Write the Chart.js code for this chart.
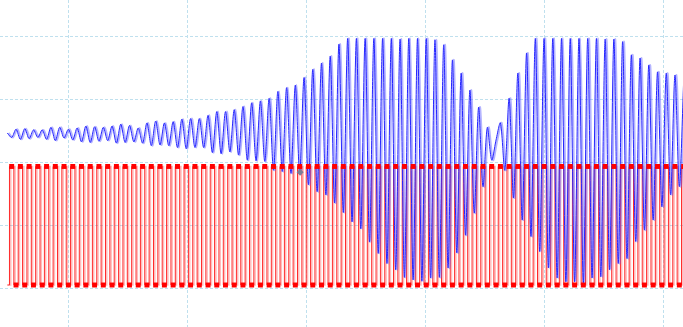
<!DOCTYPE html>
<html>
<head>
<meta charset="utf-8">
<script src="https://cdn.jsdelivr.net/npm/chart.js@4.4.1/dist/chart.umd.min.js"></script>
<style>
  html, body { margin: 0; padding: 0; background: #fff; }
  #wrap { width: 683px; height: 327px; }
</style>
</head>
<body>
<div id="wrap"><canvas id="scope" width="683" height="327"></canvas></div>
<script>
// one sample per half period of the drive signal (sample 0 is just before the first edge)

// drive signal: 0 = low, 1 = high
const driveState = [
  0,1,0,1,0,1,0,1,0,1,0,1,0,1,0,1,0,1,0,1,0,1,0,1,0,1,0,1,0,1,0,1,0,1,0,1,0,1,0,1,
  0,1,0,1,0,1,0,1,0,1,0,1,0,1,0,1,0,1,0,1,0,1,0,1,0,1,0,1,0,1,0,1,0,1,0,1,0,1,0,1,
  0,1,0,1,0,1,0,1,0,1,0,1,0,1,0,1,0,1,0,1,0,1,0,1,0,1,0,1,0,1,0,1,0,1,0,1,0,1,0,1,
  0,1,0,1,0,1,0,1,0,1,0,1,0,1,0,1,0,1,0,1,0,1,0,1,0,1,0,1,0,1,0,1,0,1,0,1
];
const driveLevels = [0.06, 1.94]; // V

// response signal, V
const response = [
  2.47,
  2.40, 2.53, 2.37, 2.54, 2.38, 2.52, 2.40, 2.52, 2.37, 2.56,
  2.35, 2.56, 2.39, 2.53, 2.36, 2.55, 2.33, 2.58, 2.32, 2.57,
  2.34, 2.56, 2.35, 2.58, 2.31, 2.61, 2.32, 2.59, 2.33, 2.55,
  2.31, 2.63, 2.27, 2.66, 2.28, 2.63, 2.27, 2.65, 2.24, 2.69,
  2.22, 2.70, 2.24, 2.70, 2.24, 2.75, 2.16, 2.81, 2.14, 2.81,
  2.17, 2.84, 2.12, 2.89, 2.04, 2.95, 2.03, 2.98, 2.02, 3.02,
  1.88, 3.13, 1.86, 3.19, 1.83, 3.23, 1.82, 3.35, 1.65, 3.48,
  1.54, 3.58, 1.49, 3.69, 1.36, 3.88, 1.21, 3.97, 1.06, 3.97,
  0.95, 3.97, 0.74, 3.97, 0.56, 3.97, 0.40, 3.97, 0.30, 3.96,
  0.18, 3.97, 0.14, 3.97, 0.12, 3.97, 0.17, 3.95, 0.18, 3.87,
  0.33, 3.63, 0.57, 3.42, 0.85, 3.15, 1.20, 2.88, 1.62, 2.56,
  2.04, 2.36, 2.63, 1.88, 3.02, 1.44, 3.42, 1.09, 3.74, 0.83,
  3.97, 0.59, 3.97, 0.33, 3.97, 0.17, 3.97, 0.11, 3.97, 0.11,
  3.97, 0.09, 3.97, 0.17, 3.97, 0.19, 3.96, 0.30, 3.96, 0.40,
  3.92, 0.48, 3.71, 0.75, 3.66, 0.93, 3.55, 1.09, 3.44, 1.30,
  3.42, 1.49, 3.39, 1.62, 3.31
];

// cursor marker
const cursorSample = [67.1];
const cursorValue = [1.85];

const drivePoints = driveState.map((s, i) => ({ x: i, y: driveLevels[s] }));
const responsePoints = response.map((v, i) => ({ x: i, y: v }));
const cursorPoints = cursorSample.map((x, i) => ({ x: x, y: cursorValue[i] }));

const gridColor = '#bfe0ee';

new Chart(document.getElementById('scope'), {
  type: 'line',
  data: {
    datasets: [
      {
        // drive level markers
        data: drivePoints,
        xAxisID: 'xs',
        showLine: false,
        pointStyle: 'rect',
        pointRadius: (ctx) => (ctx.dataIndex === 0 ? 0 : 3.5),
        pointBackgroundColor: '#ff0000',
        pointBorderWidth: 0,
        order: 0
      },
      {
        data: cursorPoints,
        xAxisID: 'xs',
        showLine: false,
        pointStyle: 'rectRot',
        pointRadius: 3.5,
        pointBackgroundColor: '#7d7d96',
        pointBorderWidth: 0,
        order: 1
      },
      {
        data: responsePoints,
        xAxisID: 'xs',
        borderColor: '#2424ff',
        borderWidth: 1,
        tension: 0.3,
        pointRadius: 0,
        order: 2
      },
      {
        // lighter trace shadow
        data: responsePoints,
        xAxisID: 'xs2',
        borderColor: 'rgba(90,90,255,0.45)',
        borderWidth: 2,
        tension: 0.3,
        pointRadius: 0,
        order: 3
      },
      {
        data: drivePoints,
        xAxisID: 'xs',
        stepped: 'middle',
        borderColor: '#ff2a2a',
        borderWidth: 1,
        pointRadius: 0,
        order: 4
      },
      {
        data: drivePoints,
        xAxisID: 'xs2',
        stepped: 'middle',
        borderColor: 'rgba(255,60,60,0.35)',
        borderWidth: 1.5,
        pointRadius: 0,
        order: 5
      }
    ]
  },
  options: {
    responsive: false,
    animation: false,
    layout: { padding: 0, autoPadding: false },
    plugins: { legend: { display: false }, tooltip: { enabled: false } },
    scales: {
      x: {
        type: 'linear',
        min: -0.5705,
        max: 5.1594,
        ticks: { display: false, stepSize: 1, includeBounds: false },
        grid: { color: gridColor, drawTicks: false },
        border: { display: false, dash: [3, 2] }
      },
      xs: { type: 'linear', display: false, min: -1.673, max: 154.84 },
      xs2: { type: 'linear', display: false, min: -1.971, max: 154.54 },
      y: {
        min: -0.606,
        max: 4.58,
        ticks: { display: false, stepSize: 1, includeBounds: false },
        grid: { color: gridColor, drawTicks: false },
        border: { display: false, dash: [3, 2] }
      }
    }
  }
});
</script>
</body>
</html>
